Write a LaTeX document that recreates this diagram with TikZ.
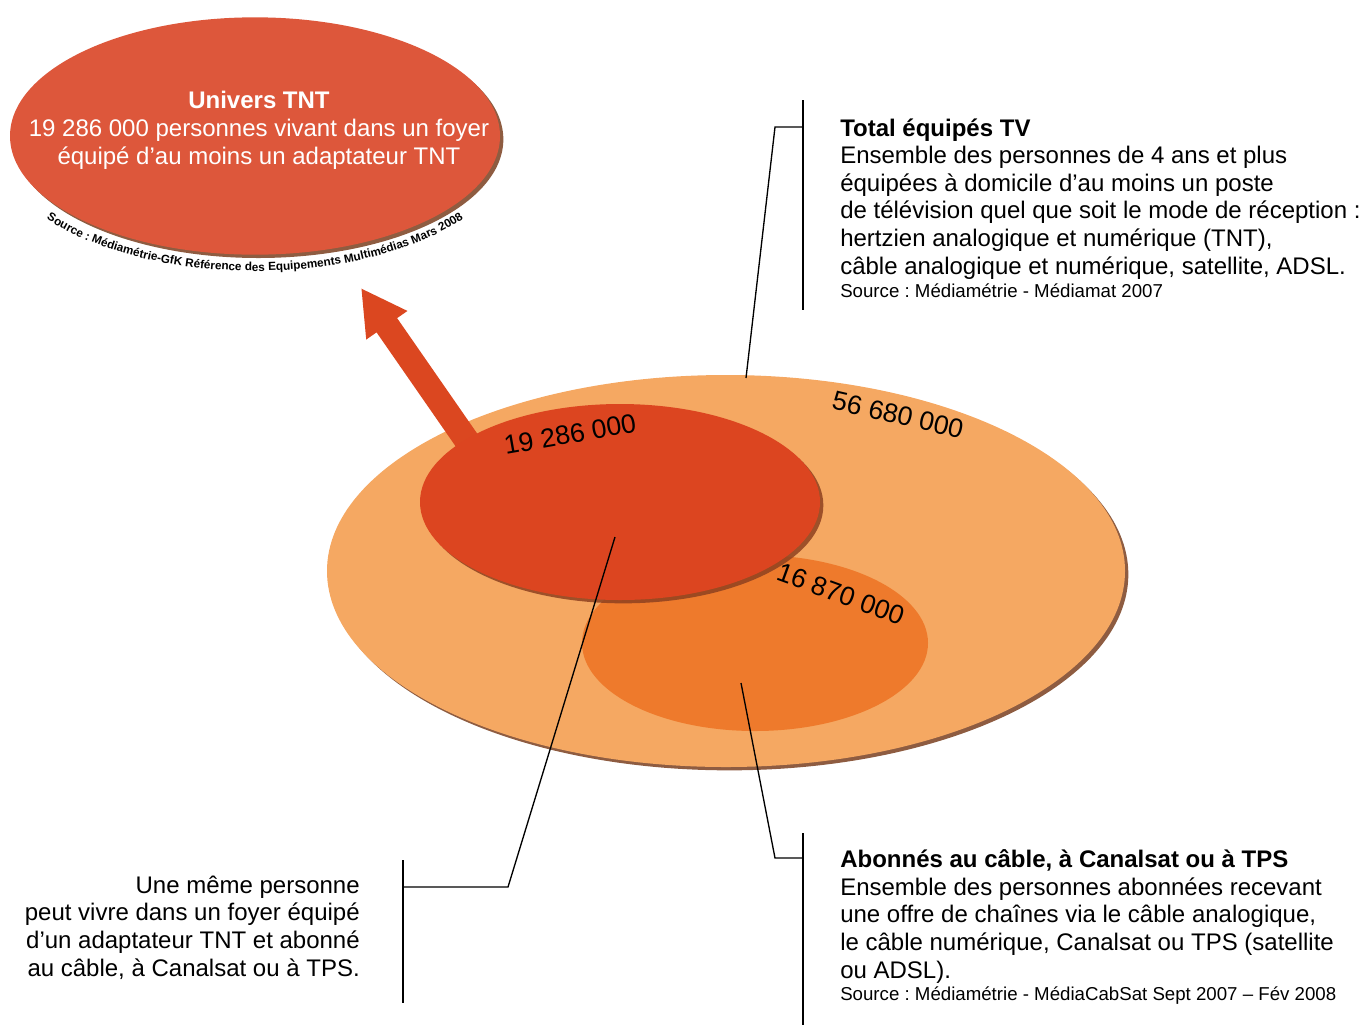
\documentclass[tikz,border=0pt]{standalone}
\usepackage{fontspec}
\setmainfont{Liberation Sans}
\frenchspacing
\usetikzlibrary{shapes.geometric,arrows.meta,shadows,decorations.text}

\definecolor{orangeclair}{HTML}{F5A862}
\definecolor{orangecable}{HTML}{EE7A2C}
\definecolor{rougetnt}{HTML}{DC4520}
\definecolor{rougebulle}{HTML}{DD573B}
\definecolor{rougefleche}{HTML}{DB4720}
\definecolor{brunombre}{HTML}{7A4020}

\tikzset{
  bulle/.style={ellipse, inner sep=0pt, outer sep=0pt},
  ombrage/.style={drop shadow={shadow xshift=2.5pt, shadow yshift=-2.5pt,
      fill=#1, opacity=.85}},
  trait/.style={line width=1pt, black},
  texte/.style={inner sep=0pt, font=\fontsize{18}{20.7}\selectfont},
  source/.style={inner sep=0pt, font=\fontsize{14}{16}\selectfont},
  chiffre/.style={inner sep=0pt, font=\fontsize{20}{24}\selectfont},
  fleche/.style={draw=rougefleche, line width=18.75pt,
      -{Triangle[width=35pt,length=34pt]}}
}

\begin{document}
\begin{tikzpicture}[x=0.75pt,y=-0.75pt]
    \useasboundingbox (0,0) rectangle (1362,1025);

    % bulle univers TNT
    \node[bulle, ombrage=brunombre, fill=rougebulle,
      minimum width=367.5pt, minimum height=178pt] (tnt) at (255,136) {};
    \node[texte, align=center, text=white, anchor=base] (tnttexte) at (259,164)
    {\textbf{Univers TNT}\\19 286 000 personnes vivant dans un foyer\\
      équipé d’au moins un adaptateur TNT};
    \path[decorate, decoration={text along path, text align=center,
        text={|\fontsize{8.8}{10}\selectfont\bfseries|Source : Médiamétrie-GfK Référence des Equipements Multimédias Mars 2008}}]
    (tnt.center) ++(264*cos 152,135*sin 152)
    arc[start angle=152, end angle=28, x radius=264, y radius=135];

    % ensembles
    \node[bulle, ombrage=brunombre, fill=orangeclair,
      minimum width=598.5pt, minimum height=294pt] (tous) at (726,571) {};
    \coordinate (fbase) at (472,448);
    \coordinate (fpointe) at (361,288);
    \draw[fleche] (fbase) -- (fpointe);
    \node[bulle, fill=orangecable,
      minimum width=259.5pt, minimum height=132pt] (cable) at (755,643) {};
    \node[bulle, ombrage=brunombre!80!rougetnt, fill=rougetnt,
      minimum width=300pt, minimum height=147pt] (univers) at (620,502) {};

    \node[chiffre, rotate=-13] (ntous) at (898,415) {56 680 000};
    \node[chiffre, rotate=10] (nunivers) at (570,434) {19 286 000};
    \node[chiffre, rotate=-20] (ncable) at (841,594) {16 870 000};

    % total equipes TV
    \node[texte, anchor=base west, align=left] (tv) at (840,274)
    {\textbf{Total équipés TV}\\Ensemble des personnes de 4 ans et plus\\
      équipées à domicile d’au moins un poste\\
      de télévision quel que soit le mode de réception :\\
      hertzien analogique et numérique (TNT),\\
      câble analogique et numérique, satellite, ADSL.};
    \node[source, anchor=base west] (tvsource) at (840,297)
    {Source : Médiamétrie - Médiamat 2007};
    \coordinate (tvhaut) at (803,100);
    \coordinate (tvbas) at (803,310);
    \coordinate (tvcoude) at (775,127);
    \coordinate (tvbout) at (746,378);
    \draw[trait] (tvhaut) -- (tvbas);
    \draw[trait] (tvhaut |- tvcoude) -- (tvcoude) -- (tvbout);

    % double appartenance
    \node[texte, anchor=base east, align=right] (double) at (360,976)
    {Une même personne\\peut vivre dans un foyer équipé\\
      d’un adaptateur TNT et abonné\\au câble, à Canalsat ou à TPS.};
    \coordinate (dbhaut) at (403,860);
    \coordinate (dbbas) at (403,1003);
    \coordinate (dbcoude) at (508,887);
    \coordinate (dbbout) at (615,537);
    \draw[trait] (dbhaut) -- (dbbas);
    \draw[trait] (dbhaut |- dbcoude) -- (dbcoude) -- (dbbout);

    % abonnes cable
    \node[texte, anchor=base west, align=left] (abonnes) at (840,978)
    {\textbf{Abonnés au câble, à Canalsat ou à TPS}\\
      Ensemble des personnes abonnées recevant\\
      une offre de chaînes via le câble analogique,\\
      le câble numérique, Canalsat ou TPS (satellite\\ou ADSL).};
    \node[source, anchor=base west] (abosource) at (840,1000)
    {Source : Médiamétrie - MédiaCabSat Sept 2007 – Fév 2008};
    \coordinate (abhaut) at (803,833);
    \coordinate (abbas) at (803,1025);
    \coordinate (abcoude) at (775,858);
    \coordinate (abbout) at (741,683);
    \draw[trait] (abhaut) -- (abbas);
    \draw[trait] (abhaut |- abcoude) -- (abcoude) -- (abbout);

\end{tikzpicture}
\end{document}
